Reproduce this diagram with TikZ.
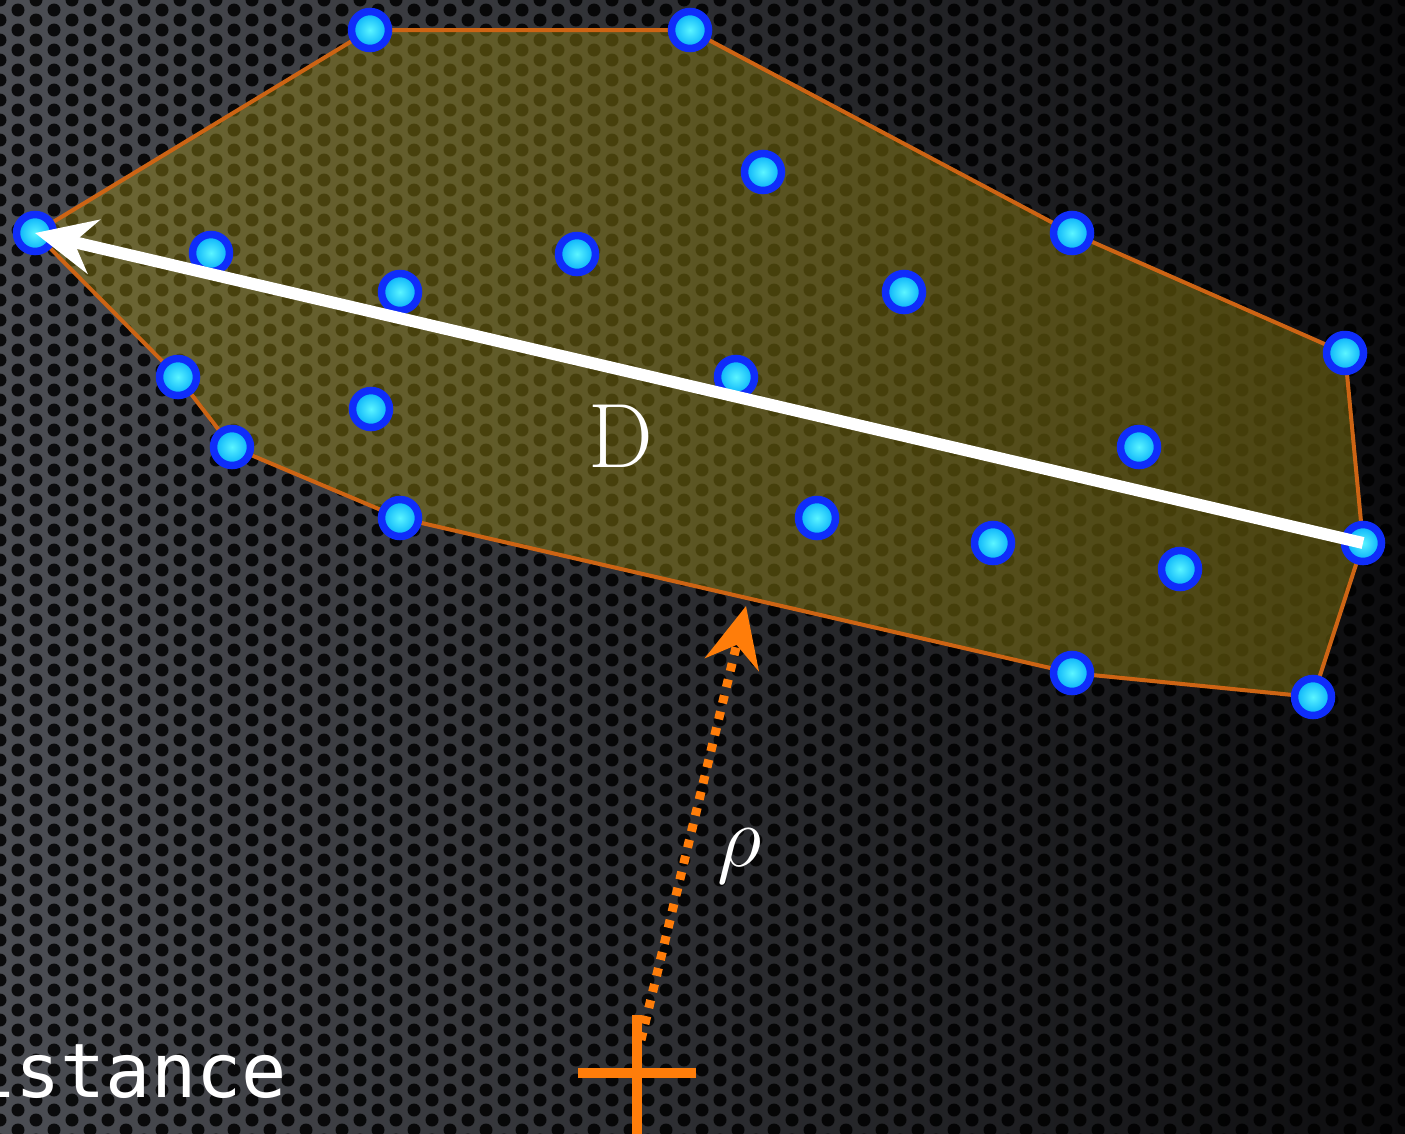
\documentclass[tikz,border=0pt]{standalone}
\usepackage{fontspec}
\newfontfamily\slidemono{DejaVu Sans Mono}
\usepackage{tikz}
\usetikzlibrary{arrows.meta}
\definecolor{bgLight}{RGB}{76,78,84}
\definecolor{bgDark}{RGB}{12,12,14}
\definecolor{hullFill}{RGB}{150,135,20}
\definecolor{hullEdge}{RGB}{205,100,20}
\definecolor{ptRing}{RGB}{15,45,250}
\definecolor{ptIn}{RGB}{90,245,255}
\definecolor{ptOut}{RGB}{0,170,250}
\definecolor{rhoOrange}{RGB}{255,125,10}

\begin{document}
\begin{tikzpicture}[
  x=0.1mm, y=-0.1mm,
  hole/.style={fill=black, fill opacity=0.85},
  dot/.style={circle, draw=ptRing, line width=0.75mm, minimum size=3.7mm, inner sep=0pt, inner color=ptIn, outer color=ptOut},
  hull/.style={draw=hullEdge, line width=0.4mm, fill=hullFill, fill opacity=0.45, line join=round},
  diam/.style={-{Stealth[length=6mm, width=5.5mm, inset=2mm]}, white, line width=1.2mm},
  rarr/.style={-{Stealth[length=6mm, width=5.5mm, inset=2mm]}, rhoOrange, line width=0.9mm, dash pattern=on 0.8mm off 0.85mm},
  crossmark/.style={rhoOrange, line width=1.05mm},
  lbl/.style={text=white, font=\fontsize{26}{30}\selectfont}
]
\useasboundingbox (0,0) rectangle (1405,1133);
\clip (0,0) rectangle (1405,1133);
\shade[left color=bgLight, right color=bgDark] (0,0) rectangle (1405,1133);
\foreach \r in {0,...,114}
  \foreach \c in {0,...,39}
    \fill[hole] ({\c*36+mod(\r,2)*18},{\r*10}) circle (6.5);

\foreach \n/\px/\py in {a1/35/233, a2/370/30, a3/690/30, a4/1072/233, a5/1345/353,
    a6/1363/543, a7/1313/697, a8/1072/673, a9/400/518, a10/232/447, a11/178/377,
    b1/211/253, b2/400/292, b3/577/254, b4/763/172, b5/904/292, b6/736/377,
    b7/371/409, b8/1139/447, b9/817/518, b10/993/543, b11/1180/569}
  \coordinate (\n) at (\px,\py);

\filldraw[hull] (a1) -- (a2) -- (a3) -- (a4) -- (a5) -- (a6) -- (a7) -- (a8)
  -- (a9) -- (a10) -- (a11) -- cycle;

\foreach \n in {a1,a2,a3,a4,a5,a6,a7,a8,a9,a10,a11,b1,b2,b3,b4,b5,b6,b7,b8,b9,b10,b11}
  \node[dot] (d\n) at (\n) {};

\draw[diam] (a6) -- (a1);
\node[lbl] (dlab) at (621,436) {D};

\coordinate (obs) at (637,1073);
\coordinate (rstart) at (641,1040);
\coordinate (foot) at (746,606);
\draw[crossmark] (obs) +(-59,0) -- +(59,0) (obs) +(0,-58) -- +(0,80);
\draw[rarr] (rstart) -- (foot);
\node[lbl] (rholab) at (740,856) {$\rho$};

\node[anchor=base west, inner sep=0pt, text=white, font=\slidemono\fontsize{21.4}{25}\selectfont] (word) at (-76,1097) {distance};
\end{tikzpicture}
\end{document}
